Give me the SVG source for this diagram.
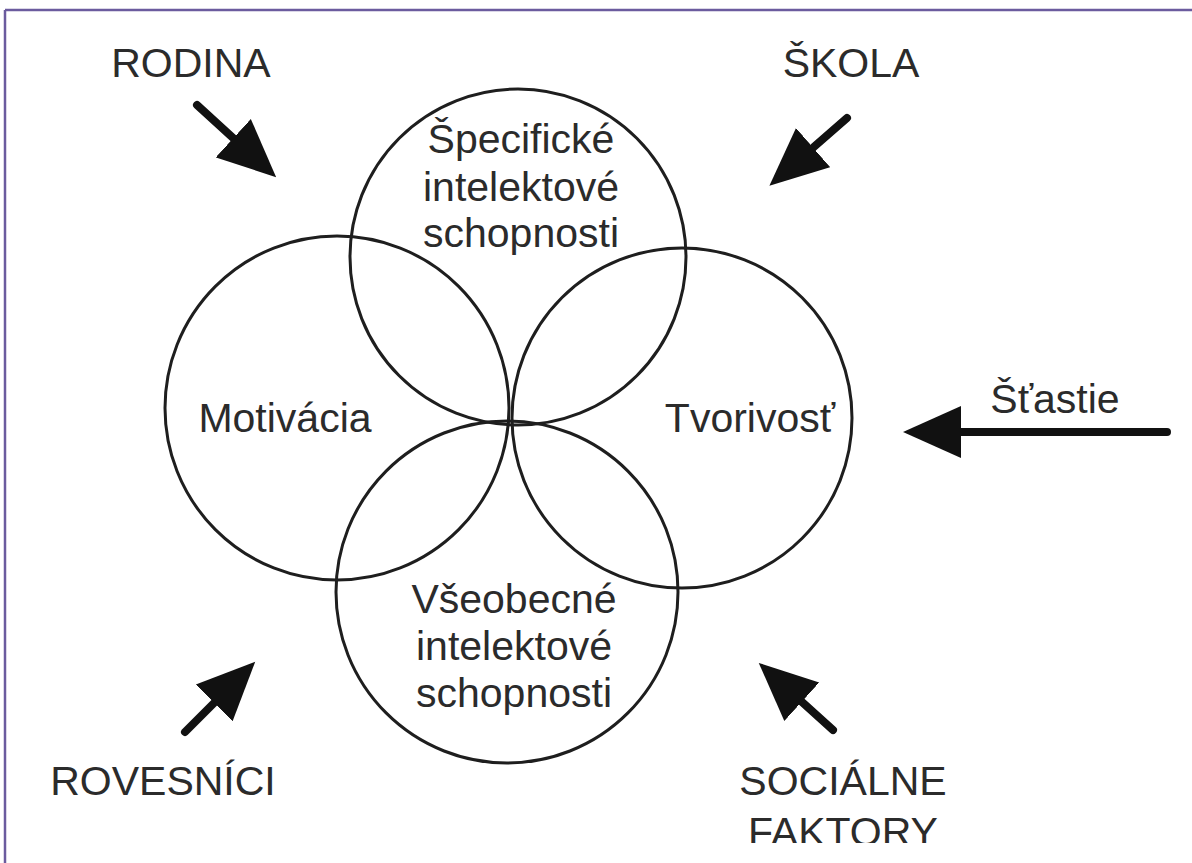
<svg xmlns="http://www.w3.org/2000/svg" width="1192" height="863" viewBox="0 0 1192 863">
<style>
.c{fill:none;stroke:#1e1e1e;stroke-width:3}
.t{font-family:"Liberation Sans",Arial,sans-serif;font-size:41px;fill:#2b2b2b;text-anchor:middle}
.a{stroke:#111;stroke-width:8;stroke-linecap:round;fill:none;marker-end:url(#ah)}
.b{stroke:#6b5b9e;stroke-width:2.5;fill:none}
</style>
<defs>
<marker id="ah" markerUnits="userSpaceOnUse" markerWidth="60" markerHeight="54" refX="28" refY="27" orient="auto" viewBox="0 0 60 54">
<path d="M0,1 L58,27 L0,53 Z" fill="#111"/>
</marker>
<clipPath id="clip"><rect x="0" y="0" width="1192" height="843"/></clipPath>
</defs>
<rect width="1192" height="863" fill="#fff"/>
<g id="frame">
<line class="b" x1="5" y1="10" x2="1192" y2="10"/>
<line class="b" x1="5" y1="10" x2="5" y2="863"/>
</g>
<g id="specificke">
<circle class="c" cx="518" cy="257" r="168"/>
<text class="t" x="521" y="153">Špecifické</text>
<text class="t" x="521" y="201">intelektové</text>
<text class="t" x="521" y="247">schopnosti</text>
</g>
<g id="motivacia">
<circle class="c" cx="337" cy="408" r="172"/>
<text class="t" x="285" y="432">Motivácia</text>
</g>
<g id="tvorivost">
<circle class="c" cx="682" cy="418" r="170"/>
<text class="t" x="750" y="432">Tvorivosť</text>
</g>
<g id="vseobecne">
<circle class="c" cx="507" cy="592" r="171"/>
<text class="t" x="514" y="613">Všeobecné</text>
<text class="t" x="514" y="660">intelektové</text>
<text class="t" x="514" y="707">schopnosti</text>
</g>
<g id="rodina"><text class="t" x="191" y="77">RODINA</text></g>
<g id="skola"><text class="t" x="851" y="77">ŠKOLA</text></g>
<g id="stastie"><text class="t" x="1055" y="413">Šťastie</text></g>
<g id="rovesnici"><text class="t" x="163" y="795">ROVESNÍCI</text></g>
<g id="socialne" clip-path="url(#clip)"><text class="t" x="843" y="795">SOCIÁLNE</text><text class="t" x="843" y="846">FAKTORY</text></g>
<g id="connectors">
<path class="a" d="M197,105 L254,157"/>
<path class="a" d="M847,118 L792,166"/>
<path class="a" d="M1167,432 L933,432"/>
<path class="a" d="M185,732 L234,683"/>
<path class="a" d="M833,730 L781,683"/>
</g>
</svg>
